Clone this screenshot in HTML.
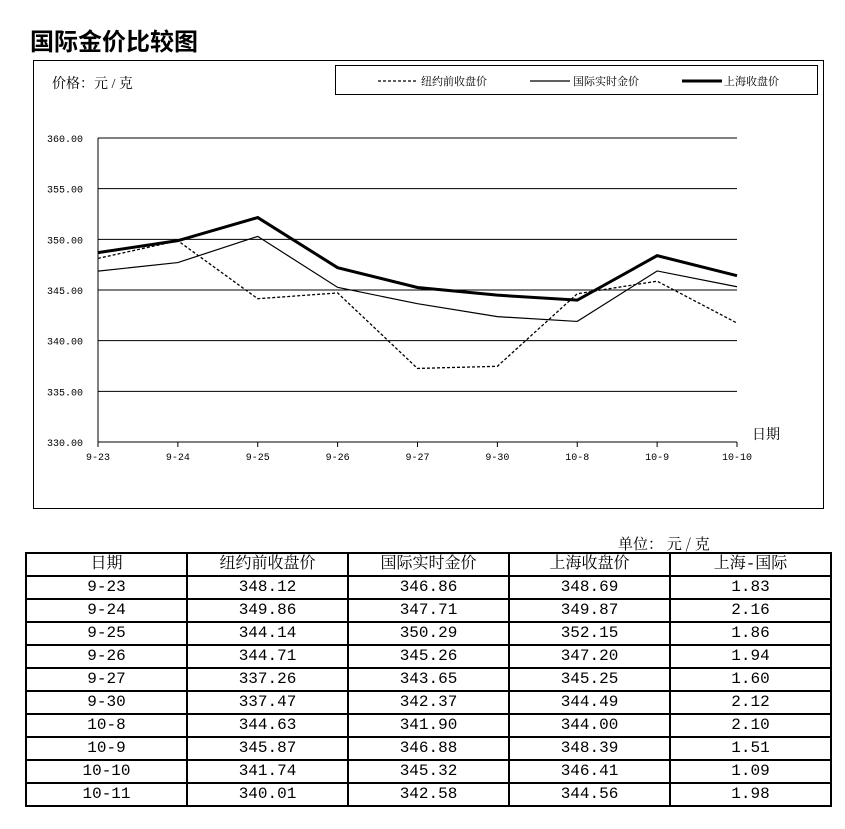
<!DOCTYPE html>
<html><head><meta charset="utf-8"><style>
body{margin:0;background:#fff;width:845px;height:829px;overflow:hidden;font-family:"Liberation Serif","Noto Serif CJK SC",serif}
svg{position:absolute;left:0;top:0}
table{position:absolute;left:25px;top:552px;border-collapse:collapse;width:807px;font-family:"Liberation Mono","Noto Serif CJK SC",serif;font-size:16px}
td{border:2px solid #000;height:21px;padding:0;text-align:center;width:20%;line-height:21px}
</style></head><body>
<svg width="845" height="829" id="c">
<text x="30" y="50" font-size="24" font-weight="bold" font-family="Liberation Sans,Noto Sans CJK SC,sans-serif">国际金价比较图</text>
<rect x="33.5" y="60.5" width="790" height="448" fill="none" stroke="#000"/>
<text x="52" y="88" font-size="14" font-family="Liberation Serif,Noto Serif CJK SC,serif">价格：元 / 克</text>
<g>
<rect x="335.5" y="65.5" width="482" height="29" fill="none" stroke="#000"/>
<line x1="378" y1="81" x2="418" y2="81" stroke="#000" stroke-dasharray="3,2" stroke-width="1.3"/>
<text x="421" y="85" font-size="11" font-family="Noto Serif CJK SC,serif">纽约前收盘价</text>
<line x1="530" y1="81" x2="570" y2="81" stroke="#000" stroke-width="1.2"/>
<text x="573" y="85" font-size="11" font-family="Noto Serif CJK SC,serif">国际实时金价</text>
<line x1="682" y1="81" x2="722" y2="81" stroke="#000" stroke-width="3"/>
<text x="724" y="85" font-size="11" font-family="Noto Serif CJK SC,serif">上海收盘价</text>
</g>
<g id="grid"></g><g id="lines"></g>
<text x="752" y="439" font-size="14" font-family="Noto Serif CJK SC,serif">日期</text>
<text x="618" y="549" font-size="15" font-family="Noto Serif CJK SC,serif">单位：  元 / 克</text>
</svg>
<table><tbody id="tb">
<tr><td>日期</td><td>纽约前收盘价</td><td>国际实时金价</td><td>上海收盘价</td><td>上海-国际</td></tr>
</tbody></table>
<script>
const categories=["9-23","9-24","9-25","9-26","9-27","9-30","10-8","10-9","10-10"];
const nyClose=[348.12,349.86,344.14,344.71,337.26,337.47,344.63,345.87,341.74];
const intlLive=[346.86,347.71,350.29,345.26,343.65,342.37,341.90,346.88,345.32];
const shClose=[348.69,349.87,352.15,347.20,345.25,344.49,344.00,348.39,346.41];
const yTicks=[330,335,340,345,350,355,360];
const tableDates=["9-23","9-24","9-25","9-26","9-27","9-30","10-8","10-9","10-10","10-11"];
const tableNy=["348.12","349.86","344.14","344.71","337.26","337.47","344.63","345.87","341.74","340.01"];
const tableIntl=["346.86","347.71","350.29","345.26","343.65","342.37","341.90","346.88","345.32","342.58"];
const tableSh=["348.69","349.87","352.15","347.20","345.25","344.49","344.00","348.39","346.41","344.56"];
const tableDiff=["1.83","2.16","1.86","1.94","1.60","2.12","2.10","1.51","1.09","1.98"];
const NS="http://www.w3.org/2000/svg";
const x=i=>98+i*(737-98)/(categories.length-1);
const y=v=>442-(v-330)*(442-138)/30;
function mk(t,a,p){const e=document.createElementNS(NS,t);for(const k in a)e.setAttribute(k,a[k]);p.appendChild(e);return e;}
const g=document.getElementById('grid');
yTicks.forEach(v=>{
 const l=mk('line',{x1:98,x2:737,y1:y(v),y2:y(v),stroke:'#000','stroke-width':1},g);
 
 
 const t=mk('text',{x:83,y:y(v)+4,'font-size':10,'text-anchor':'end','font-family':'Liberation Mono,monospace'},g);
 t.textContent=v.toFixed(2);
 
 
});
mk('line',{x1:98,x2:98,y1:138,y2:442,stroke:'#000'},g);
categories.forEach((c,i)=>{
 mk('line',{x1:x(i),x2:x(i),y1:442,y2:447,stroke:'#000'},g);
 const t=mk('text',{x:x(i),y:460,'font-size':10,'text-anchor':'middle','font-family':'Liberation Mono,monospace'},g);
 t.textContent=c;
 
 
});
const L=document.getElementById('lines');
function series(d,w,dash,name){
 const p=mk('polyline',{points:d.map((v,i)=>x(i)+','+y(v)).join(' '),fill:'none',stroke:'#000','stroke-width':w},L);
 if(dash)p.setAttribute('stroke-dasharray',dash);
 
 
}
series(nyClose,1.3,'3,2','ny-close-line');
series(intlLive,1.2,null,'intl-live-line');
series(shClose,3,null,'sh-close-line');
const tb=document.getElementById('tb');
tableDates.forEach((d,i)=>{
 const tr=document.createElement('tr');
 
 
 [d,tableNy[i],tableIntl[i],tableSh[i],tableDiff[i]].forEach(v=>{const td=document.createElement('td');td.textContent=v;tr.appendChild(td);});
 tb.appendChild(tr);
});
</script>
</body></html>
